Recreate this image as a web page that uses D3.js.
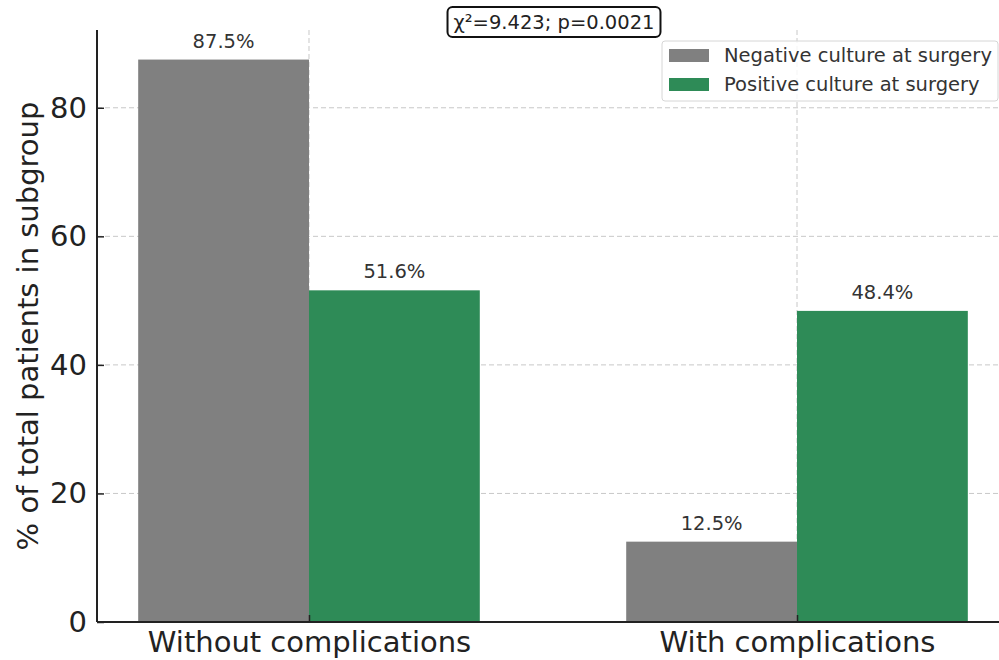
<!DOCTYPE html>
<html lang="en">
<head>
    <meta charset="UTF-8">
    <title>Culture at surgery vs complications</title>
    <script src="https://d3js.org/d3.v7.min.js"></script>
    <style>
        body { margin: 0; background: #fff; }
        text { font-family: "DejaVu Sans", sans-serif; }
    </style>
</head>
<body>
<svg width="999" height="660"></svg>
<script>
    // data
    const categories = ["Without complications", "With complications"];
    const seriesNames = ["Negative culture at surgery", "Positive culture at surgery"];
    const negative = [87.5, 12.5];
    const positive = [51.6, 48.4];
    const yTicks = [0, 20, 40, 60, 80];
    const statText = "\u03c7\u00b2=9.423; p=0.0021";

    const colors = ["#808080", "#2e8b57"];
    const series = [negative, positive];

    const svg = d3.select('svg');
    const plotL = 97, plotR = 999, plotT = 30, plotB = 622;

    // x is category index, bars 0.35 wide either side of the centre
    const x = d3.scaleLinear().domain([-0.4344, 1.4139]).range([plotL, plotR]);
    const y = d3.scaleLinear().domain([0, 92.1]).range([plotB, plotT]);
    const barW = 0.35;

    // grid
    const grid = svg.append('g');
    grid.selectAll('line.h').data(yTicks.filter(d => d > 0)).enter().append('line')
        .attr('x1', plotL).attr('x2', plotR)
        .attr('y1', d => y(d)).attr('y2', d => y(d))
        .attr('stroke', '#c8c8c8').attr('stroke-dasharray', '5,3').attr('stroke-width', 1);
    grid.selectAll('line.v').data(categories).enter().append('line')
        .attr('x1', (d, i) => x(i)).attr('x2', (d, i) => x(i))
        .attr('y1', plotT).attr('y2', plotB)
        .attr('stroke', '#c8c8c8').attr('stroke-dasharray', '5,3').attr('stroke-width', 1);

    // bars
    series.forEach(function (vals, s) {
        const off = s === 0 ? -barW : 0;
        const g = svg.append('g');
        g.selectAll('rect').data(vals).enter().append('rect')
            .attr('x', (d, i) => x(i + off))
            .attr('width', x(barW) - x(0))
            .attr('y', d => y(d))
            .attr('height', d => y(0) - y(d))
            .attr('fill', colors[s]);
        g.selectAll('text').data(vals).enter().append('text')
            .attr('x', (d, i) => x(i + off + barW / 2))
            .attr('y', d => y(d) - 12)
            .attr('text-anchor', 'middle')
            .attr('font-size', 19.5).attr('fill', '#333')
            .text(d => d.toFixed(1) + '%');
    });

    // axes
    const yAxis = d3.axisLeft(y).tickValues(yTicks).tickSize(-7).tickPadding(10).tickFormat(d3.format('d'));
    const gy = svg.append('g').attr('transform', `translate(${plotL},0)`).call(yAxis);
    gy.select('.domain').attr('d', `M0,${plotT}V${plotB}`).attr('stroke', '#222').attr('stroke-width', 2);
    gy.selectAll('.tick line').attr('stroke', '#222').attr('stroke-width', 1.5);
    gy.selectAll('.tick text').attr('font-size', 29).attr('fill', '#222');

    const xAxis = d3.axisBottom(x).tickValues([0, 1]).tickSize(-7).tickPadding(9)
        .tickFormat(i => categories[i]);
    const gx = svg.append('g').attr('transform', `translate(0,${plotB})`).call(xAxis);
    gx.select('.domain').attr('d', `M${plotL},0H${plotR}`).attr('stroke', '#222').attr('stroke-width', 2);
    gx.selectAll('.tick line').attr('stroke', '#222').attr('stroke-width', 1.5);
    gx.selectAll('.tick text').attr('font-size', 29).attr('fill', '#222');

    svg.append('text')
        .attr('transform', `translate(38,${(plotT + plotB) / 2}) rotate(-90)`)
        .attr('text-anchor', 'middle')
        .attr('font-size', 29).attr('fill', '#222')
        .text('% of total patients in subgroup');

    // legend
    const lg = svg.append('g').attr('transform', 'translate(662,41)');
    lg.append('rect').attr('width', 336).attr('height', 60).attr('rx', 3)
        .attr('fill', 'rgba(255,255,255,0.8)').attr('stroke', '#d6d6d6');
    seriesNames.forEach(function (name, i) {
        lg.append('rect').attr('x', 7).attr('y', 8 + i * 29).attr('width', 40).attr('height', 13)
            .attr('fill', colors[i]);
        lg.append('text').attr('x', 62).attr('y', 21 + i * 29)
            .attr('font-size', 19.5).attr('fill', '#333').text(name);
    });

    // stats annotation
    const ag = svg.append('g');
    const at = ag.append('text').attr('x', 554).attr('y', 29)
        .attr('text-anchor', 'middle').attr('font-size', 19.5).attr('fill', '#222').text(statText);
    const bb = at.node().getBBox();
    ag.insert('rect', 'text')
        .attr('x', bb.x - 6).attr('y', 7).attr('width', bb.width + 12).attr('height', 30)
        .attr('rx', 5).attr('fill', '#fff').attr('stroke', '#111').attr('stroke-width', 2);
</script>
</body>
</html>
